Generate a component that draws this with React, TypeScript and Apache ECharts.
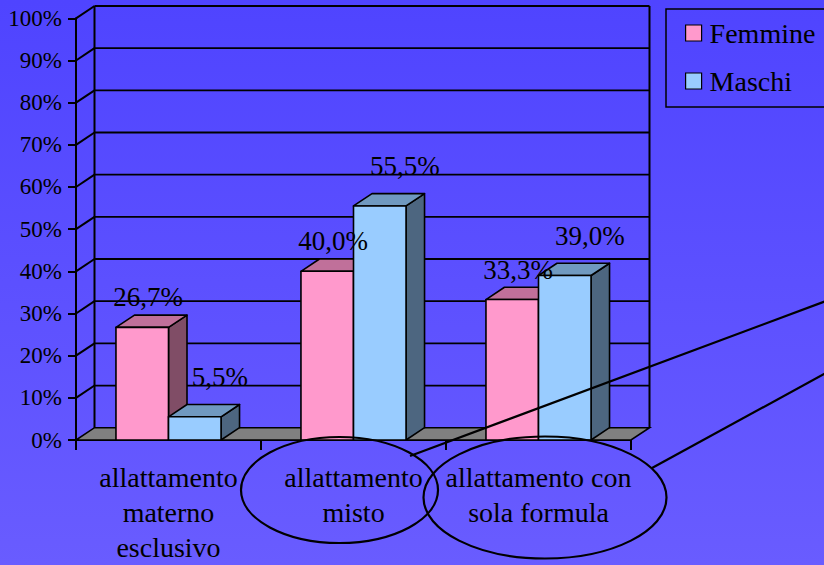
import React, { useEffect, useRef } from "react";
import * as echarts from "echarts";

const categories = [
  "allattamento\nmaterno\nesclusivo",
  "allattamento\nmisto",
  "allattamento con\nsola formula",
];
const seriesNames = ["Femmine", "Maschi"];
const femmine = [26.7, 40.0, 33.3];
const maschi = [5.5, 55.5, 39.0];
const yTicks = [0, 10, 20, 30, 40, 50, 60, 70, 80, 90, 100];

const DX = 18.5;
const DY = -12.3;
const FONT = "'Liberation Serif', 'Times New Roman', serif";

const palette = [
  { front: "#FF99CC", top: "#C0709A", side: "#804D66", labelDx: 6, labelDy: -30 },
  { front: "#99CCFF", top: "#7099C0", side: "#4D6680", labelDx: 25, labelDy: -40 },
];

const fmt = (v: number) => v.toFixed(1).replace(".", ",") + "%";

function makeBarRenderer(idx: number) {
  const col = palette[idx];
  return (params: any, api: any) => {
    const cat = api.value(0);
    const v = api.value(1);
    const base = api.coord([cat, 0]);
    const top = api.coord([cat, v]);
    const band = api.size([1, 0])[0];
    const w = band * 0.284;
    const x0 = base[0] + (idx === 0 ? -w : 0);
    const yT = top[1];
    const yB = base[1];
    const stroke = { stroke: "#000", lineWidth: 1.6, lineJoin: "round" };
    return {
      type: "group",
      children: [
        {
          type: "polygon",
          shape: { points: [[x0 + w, yT], [x0 + w + DX, yT + DY], [x0 + w + DX, yB + DY], [x0 + w, yB]] },
          style: { fill: col.side, ...stroke },
        },
        {
          type: "polygon",
          shape: { points: [[x0, yT], [x0 + w, yT], [x0 + w + DX, yT + DY], [x0 + DX, yT + DY]] },
          style: { fill: col.top, ...stroke },
        },
        {
          type: "rect",
          shape: { x: x0, y: yT, width: w, height: yB - yT },
          style: { fill: col.front, ...stroke },
        },
        {
          type: "text",
          z2: 100,
          style: {
            text: fmt(v),
            x: x0 + w / 2 + col.labelDx,
            y: yT + col.labelDy,
            align: "center",
            verticalAlign: "middle",
            fill: "#000",
            font: `27px ${FONT}`,
          },
        },
      ],
    };
  };
}

function frameRenderer(params: any, api: any) {
  const cs = params.coordSys;
  const v = api.value(1);
  const y = api.coord([0, v])[1];
  const xL = cs.x;
  const xR = cs.x + cs.width;
  const line = { stroke: "#000", lineWidth: 1.8 };
  const children: any[] = [];
  if (v === 0) {
    const yTop = cs.y;
    children.push({
      type: "line",
      shape: { x1: xL + DX, y1: yTop + DY, x2: xL + DX, y2: y + DY },
      style: { ...line, lineWidth: 2 },
    });
    children.push({
      type: "line",
      shape: { x1: xR + DX, y1: yTop + DY, x2: xR + DX, y2: y + DY },
      style: { ...line, lineWidth: 2 },
    });
    children.push({
      type: "polygon",
      shape: { points: [[xL, y], [xR, y], [xR + DX, y + DY], [xL + DX, y + DY]] },
      style: { fill: "#808080", stroke: "#000", lineWidth: 1.6 },
    });
  } else {
    children.push({
      type: "line",
      shape: { x1: xL, y1: y, x2: xL + DX, y2: y + DY },
      style: { ...line, lineWidth: 2 },
    });
    children.push({
      type: "line",
      shape: { x1: xL + DX, y1: y + DY, x2: xR + DX, y2: y + DY },
      style: line,
    });
  }
  return { type: "group", children };
}

export default function App() {
  const ref = useRef<HTMLDivElement>(null);
  useEffect(() => {
    if (!ref.current) return;
    const chart = echarts.init(ref.current, null, { renderer: "svg" });
    chart.setOption({
      animation: false,
      backgroundColor: {
        type: "linear",
        x: 0,
        y: 0,
        x2: 0,
        y2: 1,
        colorStops: [
          { offset: 0, color: "#4F44FF" },
          { offset: 1, color: "#695CFF" },
        ],
      },
      grid: { left: 76, right: 193, top: 18.3, bottom: 125, containLabel: false },
      legend: {
        data: seriesNames,
        orient: "vertical",
        left: 666,
        top: 9,
        padding: [8, 30, 10, 19],
        itemGap: 16,
        itemWidth: 16,
        itemHeight: 16,
        icon: "rect",
        selectedMode: false,
        borderColor: "#000",
        borderWidth: 1.5,
        itemStyle: { borderColor: "#000", borderWidth: 1.2 },
        textStyle: {
          fontFamily: FONT,
          fontSize: 28,
          lineHeight: 32,
          color: "#000",
          padding: [0, 0, 0, 3],
        },
      },
      xAxis: {
        type: "category",
        data: categories,
        boundaryGap: true,
        axisLine: { show: true, lineStyle: { color: "#000", width: 2 } },
        axisTick: { show: true, length: 10, interval: 0, lineStyle: { color: "#000", width: 2 } },
        axisLabel: {
          interval: 0,
          margin: 20,
          fontFamily: FONT,
          fontSize: 28,
          lineHeight: 35,
          color: "#000",
        },
        splitLine: { show: false },
      },
      yAxis: {
        type: "value",
        min: 0,
        max: 100,
        interval: 10,
        axisLine: { show: true, lineStyle: { color: "#000", width: 2 } },
        axisTick: { show: true, length: 8, lineStyle: { color: "#000", width: 2 } },
        axisLabel: {
          formatter: "{value}%",
          margin: 14,
          fontFamily: FONT,
          fontSize: 23,
          color: "#000",
        },
        splitLine: { show: false },
      },
      series: [
        {
          type: "custom",
          name: "frame",
          z: 1,
          renderItem: frameRenderer,
          data: yTicks.map((v) => [0, v]),
          silent: true,
        },
        {
          type: "custom",
          name: seriesNames[0],
          z: 2,
          itemStyle: { color: palette[0].front },
          renderItem: makeBarRenderer(0),
          data: femmine.map((v, i) => [i, v]),
        },
        {
          type: "custom",
          name: seriesNames[1],
          z: 2,
          itemStyle: { color: palette[1].front },
          renderItem: makeBarRenderer(1),
          data: maschi.map((v, i) => [i, v]),
        },
      ],
      graphic: [
        {
          type: "ellipse",
          z: 100,
          shape: { cx: 339.5, cy: 490, rx: 98.5, ry: 53 },
          style: { fill: "none", stroke: "#000", lineWidth: 2.2 },
        },
        {
          type: "ellipse",
          z: 100,
          shape: { cx: 545, cy: 497.5, rx: 121.5, ry: 61 },
          style: { fill: "none", stroke: "#000", lineWidth: 2.2 },
        },
        {
          type: "line",
          z: 100,
          shape: { x1: 410, y1: 456, x2: 826, y2: 301 },
          style: { stroke: "#000", lineWidth: 2.2 },
        },
        {
          type: "line",
          z: 100,
          shape: { x1: 652, y1: 468, x2: 826, y2: 373 },
          style: { stroke: "#000", lineWidth: 2.2 },
        },
      ],
    });
    return () => chart.dispose();
  }, []);
  return (
    <div
      ref={ref}
      style={{ position: "absolute", left: 0, top: 0, width: 824, height: 565 }}
    />
  );
}
